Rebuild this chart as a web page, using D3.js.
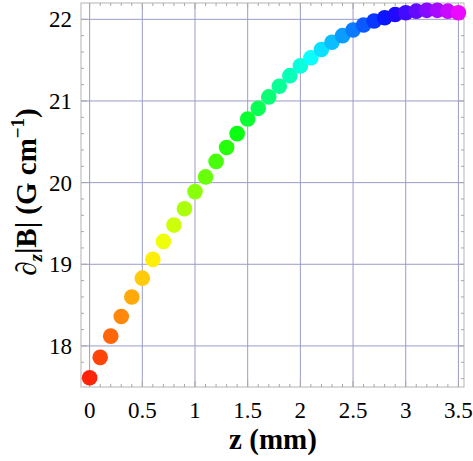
<!DOCTYPE html>
<html>
<head>
<meta charset="utf-8">
<script src="https://cdn.jsdelivr.net/npm/d3@7"></script>
<style>
body { margin: 0; background: #fff; }
text { font-family: "Liberation Serif", "DejaVu Serif", serif; }
</style>
</head>
<body>
<div id="chart"></div>
<script>
var width = 473, height = 461;

// values
var zValues = [0, 0.1, 0.2, 0.3, 0.4, 0.5, 0.6, 0.7, 0.8, 0.9,
	1.0, 1.1, 1.2, 1.3, 1.4, 1.5, 1.6, 1.7, 1.8, 1.9,
	2.0, 2.1, 2.2, 2.3, 2.4, 2.5, 2.6, 2.7, 2.8, 2.9,
	3.0, 3.1, 3.2, 3.3, 3.4, 3.5];
var gradValues = [17.61, 17.86, 18.12, 18.36, 18.60, 18.83, 19.06, 19.28, 19.48, 19.68,
	19.89, 20.07, 20.26, 20.43, 20.60, 20.78, 20.91, 21.05, 21.18, 21.31,
	21.43, 21.53, 21.63, 21.72, 21.80, 21.87, 21.93, 21.98, 22.02, 22.06,
	22.08, 22.10, 22.11, 22.11, 22.10, 22.08];
var xTicks = [0, 0.5, 1, 1.5, 2, 2.5, 3, 3.5];
var xTickLabels = ["0", "0.5", "1", "1.5", "2", "2.5", "3", "3.5"];
var yTicks = [18, 19, 20, 21, 22];
var yTickLabels = ["18", "19", "20", "21", "22"];

var margin = {left: 81, top: 3, right: 9, bottom: 74};
var plotW = width - margin.left - margin.right;
var plotH = height - margin.top - margin.bottom;

var svg = d3.select("#chart").append("svg")
	.attr("width", width)
	.attr("height", height);

var x = d3.scaleLinear().domain([-0.082, 3.553]).range([0, plotW]);
var y = d3.scaleLinear().domain([17.497, 22.2]).range([plotH, 0]);
var hue = d3.scaleLinear().domain([0, 3.5]).range([6, 295]);

var g = svg.append("g").attr("transform", "translate(" + margin.left + "," + margin.top + ")");

// grid lines
g.append("g").selectAll("line")
	.data(xTicks)
	.enter().append("line")
	.attr("x1", function(d){ return x(d); })
	.attr("x2", function(d){ return x(d); })
	.attr("y1", 0).attr("y2", plotH)
	.attr("stroke", "#9a9cc8").attr("stroke-width", 1);
g.append("g").selectAll("line")
	.data(yTicks)
	.enter().append("line")
	.attr("y1", function(d){ return y(d); })
	.attr("y2", function(d){ return y(d); })
	.attr("x1", 0).attr("x2", plotW)
	.attr("stroke", "#9a9cc8").attr("stroke-width", 1);

// frame
g.append("rect")
	.attr("width", plotW).attr("height", plotH)
	.attr("fill", "none").attr("stroke", "#b4b4b4").attr("stroke-width", 1);

// ticks (inward on all four sides)
var xMinor = d3.range(0, 3.55, 0.1);
var yMinor = d3.range(17.6, 22.2, 0.2);
function tickLen(v, step){ return Math.abs(v / step - Math.round(v / step)) < 1e-6 ? 6 : 3; }

var tg = g.append("g").attr("stroke", "#a8a8a8").attr("stroke-width", 1);
xMinor.forEach(function(v){
	var L = tickLen(v, 0.5);
	tg.append("line").attr("x1", x(v)).attr("x2", x(v)).attr("y1", plotH).attr("y2", plotH - L);
	tg.append("line").attr("x1", x(v)).attr("x2", x(v)).attr("y1", 0).attr("y2", L);
});
yMinor.forEach(function(v){
	var L = tickLen(v, 1);
	tg.append("line").attr("y1", y(v)).attr("y2", y(v)).attr("x1", 0).attr("x2", L);
	tg.append("line").attr("y1", y(v)).attr("y2", y(v)).attr("x1", plotW).attr("x2", plotW - L);
});

// tick labels
g.append("g").selectAll("text")
	.data(xTicks)
	.enter().append("text")
	.attr("x", function(d){ return x(d); })
	.attr("y", plotH + 31)
	.attr("text-anchor", "middle")
	.attr("font-size", 23)
	.text(function(d, i){ return xTickLabels[i]; });

g.append("g").selectAll("text")
	.data(yTicks)
	.enter().append("text")
	.attr("x", -9)
	.attr("y", function(d){ return y(d) + 8; })
	.attr("text-anchor", "end")
	.attr("font-size", 23)
	.text(function(d, i){ return yTickLabels[i]; });

// points
g.append("g").selectAll("circle")
	.data(zValues)
	.enter().append("circle")
	.attr("cx", function(d){ return x(d); })
	.attr("cy", function(d, i){ return y(gradValues[i]); })
	.attr("r", 7.8)
	.attr("fill", function(d){ return d3.hsl(hue(d), 1, 0.52).toString(); });

// axis titles
svg.append("text")
	.attr("x", 273).attr("y", 449)
	.attr("text-anchor", "middle")
	.attr("font-size", 29).attr("font-weight", "bold")
	.text("z (mm)");

var yl = svg.append("text")
	.attr("transform", "translate(36,192) rotate(-90)")
	.attr("text-anchor", "middle")
	.attr("font-size", 29).attr("font-weight", "bold");
yl.append("tspan").attr("font-style", "italic").text("\u2202");
yl.append("tspan").attr("font-style", "italic").attr("font-size", 19).attr("dy", 6).text("z");
yl.append("tspan").attr("dy", -6).text("|B| (G cm");
yl.append("tspan").attr("font-size", 19).attr("dy", -12).text("\u22121");
yl.append("tspan").attr("dy", 12).text(")");
</script>
</body>
</html>
